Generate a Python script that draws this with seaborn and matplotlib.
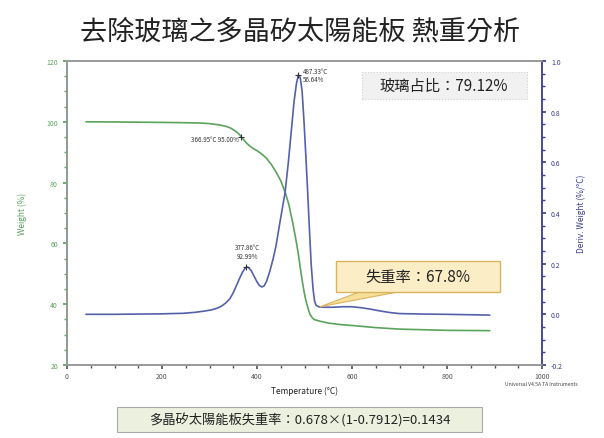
import numpy as np
import pandas as pd
import matplotlib
matplotlib.use('Agg')
import matplotlib.pyplot as plt
from matplotlib.ticker import MultipleLocator, FormatStrFormatter
from matplotlib.patches import Rectangle, Polygon
import seaborn as sns

# TGA data
temp_w = [40, 100, 200, 250, 280, 300, 320, 335, 345, 355, 362, 367, 372, 378,
          385, 392, 400, 410, 420, 430, 440, 450, 459, 467, 475, 481, 487, 492,
          497, 501, 505, 509, 512, 516, 520, 530, 550, 575, 600, 650, 700, 800, 890]
weight = [100, 99.95, 99.8, 99.7, 99.6, 99.4, 99.0, 98.5, 97.9, 96.9, 96.0, 95.0,
          94.1, 93.0, 92.0, 91.2, 90.5, 89.4, 88.0, 86.0, 83.5, 80.6, 77.0, 72.8,
          67.0, 62.0, 56.6, 51.0, 46.0, 42.5, 40.0, 37.8, 36.5, 35.6, 35.0, 34.5,
          33.8, 33.3, 33.0, 32.3, 31.8, 31.4, 31.3]

temp_d = [40, 100, 200, 244, 270, 290, 305, 316, 325, 335, 343, 350, 357, 364,
          370, 375, 378, 382, 388, 394, 400, 405, 410, 415, 420, 427, 434, 440,
          448, 459, 466, 472, 478, 483, 487, 491, 495, 499, 503, 507, 510, 514,
          518, 521, 524, 530, 540, 560, 580, 600, 620, 640, 660, 680, 700, 750,
          800, 890]
deriv = [0.0, 0.0, 0.002, 0.004, 0.008, 0.013, 0.018, 0.024, 0.032, 0.046, 0.062,
         0.085, 0.115, 0.145, 0.168, 0.182, 0.187, 0.185, 0.172, 0.15, 0.128, 0.114,
         0.108, 0.112, 0.13, 0.17, 0.22, 0.27, 0.36, 0.48, 0.6, 0.72, 0.84, 0.91,
         0.945, 0.935, 0.88, 0.76, 0.62, 0.47, 0.35, 0.2, 0.1, 0.055, 0.036, 0.03,
         0.028, 0.028, 0.03, 0.03, 0.026, 0.02, 0.013, 0.007, 0.003, 0.001, 0.0, -0.003]

df_w = pd.DataFrame({'temp': temp_w, 'weight': weight})
df_d = pd.DataFrame({'temp': temp_d, 'deriv': deriv})

sns.set_theme(style='white')
plt.rcParams['font.family'] = ['Noto Sans CJK TC', 'DejaVu Sans']

W, H = 604, 439
green = '#5aa35c'
blue = '#5560ab'
navy = '#3a3f8c'

fig = plt.figure(figsize=(6.04, 4.39), dpi=100)
ax = fig.add_axes([67 / W, 1 - 366 / H, 475 / W, 304 / H])
ax2 = ax.twinx()

sns.lineplot(data=df_w, x='temp', y='weight', ax=ax, color=green, lw=1.2)
sns.lineplot(data=df_d, x='temp', y='deriv', ax=ax2, color=blue, lw=1.2)

ax.set_xlim(0, 1000)
ax.set_ylim(20, 120)
ax2.set_ylim(-0.2, 1.0)
ax.xaxis.set_major_locator(MultipleLocator(200))
ax.xaxis.set_minor_locator(MultipleLocator(50))
ax.yaxis.set_major_locator(MultipleLocator(20))
ax.yaxis.set_minor_locator(MultipleLocator(5))
ax2.yaxis.set_major_locator(MultipleLocator(0.2))
ax2.yaxis.set_minor_locator(MultipleLocator(0.05))
ax2.yaxis.set_major_formatter(FormatStrFormatter('%.1f'))

for a in (ax, ax2):
    for s in a.spines.values():
        s.set_visible(True)
        s.set_color('#999999')
        s.set_linewidth(1.2)
ax.spines['left'].set_color(green)
ax2.spines['right'].set_color(navy)

ax.tick_params(axis='x', which='both', direction='out', length=2, labelsize=5,
               colors='#555555', bottom=True, pad=2)
ax.tick_params(axis='x', which='major', length=3)
ax.tick_params(axis='y', which='both', direction='out', length=2, labelsize=5,
               colors=green, left=True)
ax.tick_params(axis='y', which='major', length=3)
ax2.tick_params(axis='y', which='both', direction='out', length=2, labelsize=5,
                colors=navy, right=True)
ax2.tick_params(axis='y', which='major', length=3)

ax.set_xlabel('Temperature (°C)', fontsize=6, color='#222222', labelpad=4)
ax.set_ylabel('Weight (%)', fontsize=6, color=green, labelpad=14)
ax2.set_ylabel('Deriv. Weight (%/°C)', fontsize=6, color=navy, labelpad=10)

# peak / point markers
ax.plot([366.95], [95.0], marker='+', color='#333333', ms=5, mew=0.8)
ax.text(362, 94.2, '366.95°C 95.00%', fontsize=4.5, color='#333333',
        ha='right', va='center')
ax2.plot([377.86], [0.187], marker='+', color='#333333', ms=5, mew=0.8)
ax2.text(380, 0.215, '377.86°C\n92.99%', fontsize=4.5, color='#333333',
         ha='center', va='bottom', linespacing=1.1)
ax2.plot([487.33], [0.945], marker='+', color='#333333', ms=5, mew=0.8)
ax2.text(497, 0.945, '487.33°C\n56.64%', fontsize=4.5, color='#333333',
         ha='left', va='center', linespacing=1.1)


def fig_box(x0, y0, x1, y1, **kw):
    # box given in picture pixels from top-left
    r = Rectangle((x0 / W, 1 - y1 / H), (x1 - x0) / W, (y1 - y0) / H,
                  transform=fig.transFigure, **kw)
    fig.patches.append(r)


# callout pointer to the end of the mass-loss step
tip = ax2.transData.transform((533, 0.03))
tip = fig.transFigure.inverted().transform(tip)
fig.patches.append(Polygon([[362 / W, 1 - 292 / H], [403 / W, 1 - 292 / H], tip],
                           closed=True, transform=fig.transFigure,
                           fc='#f5df9a', ec='#d9b45c', lw=0.8, zorder=5))
fig_box(336, 262, 500, 293, fc='#fbeec6', ec='#d9b45c', lw=1, zorder=6)
fig.text(418 / W, 1 - 277 / H, '失重率：67.8%', fontsize=11, color='#222222',
         ha='center', va='center', zorder=7)

fig_box(362, 73, 527, 100, fc='#f1f1f1', ec='#d0d0d0', lw=0.8, ls=':', zorder=6)
fig.text(444 / W, 1 - 86.5 / H, '玻璃占比：79.12%', fontsize=11, color='#222222',
         ha='center', va='center', zorder=7)

fig.text(300 / W, 1 - 32 / H, '去除玻璃之多晶矽太陽能板 熱重分析', fontsize=19.5,
         color='#222222', ha='center', va='center')

fig.text(541 / W, 1 - 385 / H, 'Universal V4.5A TA Instruments', fontsize=3.6,
         color='#444444', ha='center', va='center')

fig_box(117, 408, 482, 433, fc='#ebf1de', ec='#a9a9a9', lw=0.8)
fig.text(300 / W, 1 - 420.5 / H, '多晶矽太陽能板失重率：0.678×(1-0.7912)=0.1434',
         fontsize=9.5, color='#222222', ha='center', va='center')

fig.savefig('out.png', dpi=100)
